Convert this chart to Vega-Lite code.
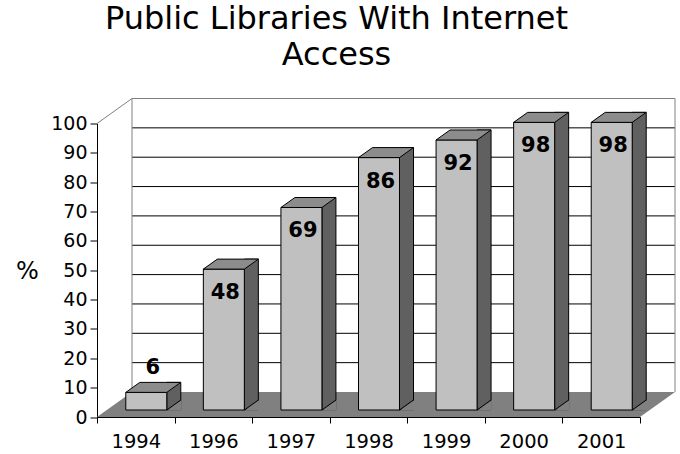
{
  "$schema": "https://vega.github.io/schema/vega-lite/v6.json",
  "width": 543,
  "height": 293.5,
  "autosize": {"type": "none"},
  "padding": {"left": 97, "top": 123.5, "right": 40, "bottom": 37},
  "background": "white",
  "config": {
    "view": {"stroke": null},
    "font": "DejaVu Sans",
    "axisX": {"domainColor": "#000000", "tickColor": "#000000", "tickSize": 6, "tickBand": "extent", "labelAngle": 0, "labelFontSize": 19.5, "labelPadding": 9, "labelColor": "#000000", "grid": false, "zindex": 1, "labelFont": "DejaVu Sans"},
    "axisY": {"domainColor": "#000000", "tickColor": "#000000", "tickSize": 7, "labelFontSize": 19, "labelPadding": 3, "labelColor": "#000000", "grid": false, "zindex": 1, "labelFont": "DejaVu Sans", "labelOverlap": false, "labelSeparation": -25, "tickCount": 11}
  },
  "title": {
    "text": ["Public Libraries With Internet", "Access"],
    "font": "DejaVu Sans",
    "fontSize": 32,
    "fontWeight": "normal",
    "color": "#000000",
    "anchor": "middle",
    "frame": "group",
    "baseline": "alphabetic",
    "lineHeight": 36.6,
    "offset": 0,
    "dx": -32,
    "dy": 1
  },
  "datasets": {
    "libs": [
      {"year": "1994", "pct": 6},
      {"year": "1996", "pct": 48},
      {"year": "1997", "pct": 69},
      {"year": "1998", "pct": 86},
      {"year": "1999", "pct": 92},
      {"year": "2000", "pct": 98},
      {"year": "2001", "pct": 98}
    ],
    "grid": [
      {"v": 10}, {"v": 20}, {"v": 30}, {"v": 40}, {"v": 50},
      {"v": 60}, {"v": 70}, {"v": 80}, {"v": 90}, {"v": 100}
    ]
  },
  "layer": [
    {
      "data": {"values": [{}]},
      "mark": {"type": "point", "shape": "M0,0 L543,0 L578,-25 L35,-25 Z", "size": 4, "filled": true, "fill": "#808080", "strokeWidth": 0, "opacity": 1},
      "encoding": {
        "x": {
          "datum": "1994", "type": "ordinal", "bandPosition": 0,
          "scale": {"domain": ["1994", "1996", "1997", "1998", "1999", "2000", "2001"], "paddingInner": 0, "paddingOuter": 0},
          "axis": {"title": null}
        },
        "y": {
          "datum": 0, "type": "quantitative",
          "scale": {"domain": [0, 100], "nice": false, "zero": true},
          "axis": {
            "title": "%",
            "values": [0, 10, 20, 30, 40, 50, 60, 70, 80, 90, 100],
            "tickCount": 11,
            "labelOverlap": false,
            "labelSeparation": -25,
            "titleAngle": 0, "titleX": -70, "titleY": 148, "titleAlign": "center", "titleBaseline": "middle",
            "titleFontSize": 24, "titleFontWeight": "normal", "titleFont": "DejaVu Sans", "titleColor": "#000000"
          }
        }
      }
    },
    {
      "data": {"name": "grid"},
      "mark": {"type": "point", "shape": "M35,-25 L578,-25", "size": 4, "filled": false, "strokeWidth": 1, "opacity": 1},
      "encoding": {
        "x": {"datum": "1994", "type": "ordinal", "bandPosition": 0},
        "y": {"field": "v", "type": "quantitative"},
        "stroke": {"condition": {"test": "datum.v === 100", "value": "#808080"}, "value": "#000000"}
      }
    },
    {
      "data": {"values": [{}]},
      "mark": {"type": "rule", "color": "#808080", "strokeWidth": 1, "xOffset": 35, "yOffset": -25, "y2Offset": -25},
      "encoding": {
        "x": {"datum": "1994", "type": "ordinal", "bandPosition": 0},
        "y": {"datum": 0, "type": "quantitative"},
        "y2": {"datum": 100}
      }
    },
    {
      "data": {"values": [{}]},
      "mark": {"type": "rule", "color": "#808080", "strokeWidth": 1, "xOffset": 35, "yOffset": -25, "y2Offset": -25},
      "encoding": {
        "x": {"datum": "2001", "type": "ordinal", "bandPosition": 1},
        "y": {"datum": 0, "type": "quantitative"},
        "y2": {"datum": 100}
      }
    },
    {
      "data": {"values": [{}]},
      "mark": {"type": "point", "shape": "M0,0 L35,-25", "size": 4, "filled": false, "stroke": "#808080", "strokeWidth": 1, "opacity": 1},
      "encoding": {
        "x": {"datum": "1994", "type": "ordinal", "bandPosition": 0},
        "y": {"datum": 100, "type": "quantitative"}
      }
    },
    {
      "data": {"name": "libs"},
      "mark": {"type": "bar", "width": 14, "xOffset": 38, "yOffset": -17, "y2Offset": -7, "fill": "#606060", "stroke": "#000000", "strokeWidth": 1, "opacity": 1},
      "encoding": {
        "x": {"field": "year", "type": "ordinal"},
        "y": {"field": "pct", "type": "quantitative"},
        "y2": {"datum": 0}
      }
    },
    {
      "data": {"name": "libs"},
      "mark": {"type": "point", "shape": "M31,0.8 L45.8,-10 L45.8,0.8 Z", "size": 4, "filled": true, "fill": "#808080", "strokeWidth": 0, "yOffset": -7, "opacity": 1},
      "encoding": {
        "x": {"field": "year", "type": "ordinal"},
        "y": {"datum": 0, "type": "quantitative"}
      }
    },
    {
      "data": {"name": "libs"},
      "mark": {"type": "point", "shape": "M31,0 L45,-10", "size": 4, "filled": false, "stroke": "#000000", "strokeWidth": 1, "yOffset": -7, "opacity": 1},
      "encoding": {
        "x": {"field": "year", "type": "ordinal"},
        "y": {"datum": 0, "type": "quantitative"}
      }
    },
    {
      "data": {"name": "libs"},
      "mark": {"type": "bar", "width": 41, "xOffset": 10.5, "yOffset": -7, "y2Offset": -7, "fill": "#c0c0c0", "stroke": "#000000", "strokeWidth": 1, "opacity": 1},
      "encoding": {
        "x": {"field": "year", "type": "ordinal"},
        "y": {"field": "pct", "type": "quantitative"},
        "y2": {"datum": 0}
      }
    },
    {
      "data": {"name": "libs"},
      "mark": {"type": "point", "shape": "M-10,0 L31,0 L45,-10 L4,-10 Z", "size": 4, "filled": true, "fill": "#8c8c8c", "stroke": "#000000", "strokeWidth": 1, "yOffset": -7, "opacity": 1},
      "encoding": {
        "x": {"field": "year", "type": "ordinal"},
        "y": {"field": "pct", "type": "quantitative"}
      }
    },
    {
      "data": {"name": "libs"},
      "transform": [{"filter": "datum.pct >= 10"}],
      "mark": {"type": "text", "font": "DejaVu Sans", "fontSize": 21, "fontWeight": "bold", "color": "#000000", "dx": 12, "dy": 17, "baseline": "middle", "align": "center"},
      "encoding": {
        "x": {"field": "year", "type": "ordinal"},
        "y": {"field": "pct", "type": "quantitative"},
        "text": {"field": "pct", "type": "quantitative"}
      }
    },
    {
      "data": {"name": "libs"},
      "transform": [{"filter": "datum.pct < 10"}],
      "mark": {"type": "text", "font": "DejaVu Sans", "fontSize": 21, "fontWeight": "bold", "color": "#000000", "dx": 17, "dy": -31, "baseline": "middle", "align": "center"},
      "encoding": {
        "x": {"field": "year", "type": "ordinal"},
        "y": {"field": "pct", "type": "quantitative"},
        "text": {"field": "pct", "type": "quantitative"}
      }
    }
  ]
}
